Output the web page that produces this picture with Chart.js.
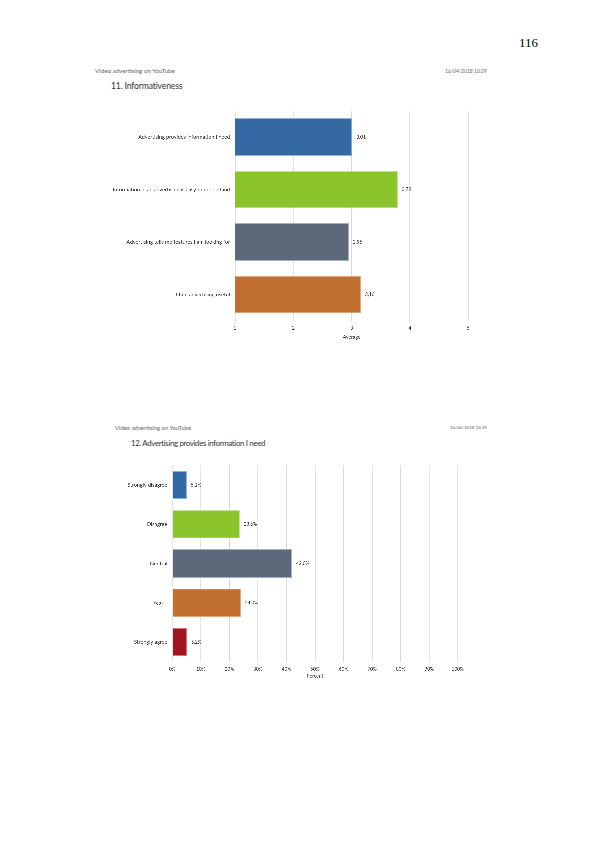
<!DOCTYPE html>
<html>
<head>
<meta charset="utf-8">
<script src="https://cdn.jsdelivr.net/npm/chart.js@4.4.1/dist/chart.umd.min.js"></script>
<style>
  html, body { margin: 0; padding: 0; background: #fff; }
  #page { position: relative; width: 595px; height: 842px; overflow: hidden; font-family: Lato, "Open Sans", sans-serif; }
  .t { position: absolute; white-space: nowrap; }
  .c { position: absolute; }
</style>
</head>
<body>
<div id="page">
  <div class="t" style="left:519px;top:35px;font:13px 'Liberation Serif',serif;color:#000;">116</div>

  <div class="t" style="left:95px;top:67.5px;font-size:6.2px;line-height:6px;color:#666;">Video advertising on YouTube</div>
  <div class="t" style="left:445px;top:68px;font-size:5px;line-height:6px;color:#666;">16/04/2018 10:29</div>
  <div class="t" style="left:111px;top:82px;font-size:8.6px;line-height:9px;color:#333;letter-spacing:-0.15px;">11. Informativeness</div>
  <div class="c" style="left:0;top:100px;width:595px;height:240px;"><canvas id="chart1"></canvas></div>

  <div class="t" style="left:115px;top:424.5px;font-size:5.9px;line-height:6px;color:#666;">Video advertising on YouTube</div>
  <div class="t" style="left:450px;top:424.5px;font-size:4.4px;line-height:6px;color:#666;">16/04/2018 10:29</div>
  <div class="t" style="left:131px;top:439px;font-size:7.9px;line-height:9px;color:#333;letter-spacing:-0.35px;">12. Advertising provides information I need</div>
  <div class="c" style="left:0;top:455px;width:595px;height:224px;"><canvas id="chart2"></canvas></div>
</div>

<script>
// chart 11 - informativeness averages
const categories1 = [
  "Advertising provides information I need",
  "Information in an advertising is easy to understand",
  "Advertising tells me features I am looking for",
  "I find advertising useful"
];
const averages1 = [3.01, 3.79, 2.95, 3.16];
const ticks1 = [1, 2, 3, 4, 5];

// chart 12 - answer shares
const categories2 = ["Strongly disagree", "Disagree", "Neutral", "Agree", "Strongly agree"];
const percents2 = [5.1, 23.6, 42.0, 24.0, 5.2];
const ticks2 = [0, 10, 20, 30, 40, 50, 60, 70, 80, 90, 100];

const fills = ["#3569a3", "#8bc52b", "#5c697b", "#c17032", "#a0151f"];
const edges = ["#8fb3d9", "#c4e68f", "#a5b0bf", "#e3a97c", "#d6727a"];

const fontFam = "Lato, 'Open Sans', sans-serif";
const textCol = "#404040";

const valueLabels = {
  id: "valueLabels",
  afterDatasetsDraw(chart, args, opts) {
    const ctx = chart.ctx;
    const meta = chart.getDatasetMeta(0);
    const data = chart.data.datasets[0].data;
    ctx.save();
    ctx.font = opts.size + "px " + fontFam;
    ctx.fillStyle = textCol;
    ctx.textAlign = "left";
    ctx.textBaseline = "middle";
    meta.data.forEach((bar, i) => {
      ctx.fillText(opts.fmt(data[i]), bar.x + 4, bar.y);
    });
    ctx.restore();
  }
};

function makeChart(id, cats, vals, opt) {
  new Chart(document.getElementById(id), {
    type: "bar",
    data: {
      labels: cats,
      datasets: [{
        data: vals,
        backgroundColor: fills.slice(0, vals.length),
        borderColor: edges.slice(0, vals.length),
        borderWidth: 0.8,
        categoryPercentage: 1,
        barPercentage: opt.barPct
      }]
    },
    options: {
      indexAxis: "y",
      responsive: true,
      maintainAspectRatio: false,
      animation: false,
      devicePixelRatio: 3,
      layout: { padding: { top: opt.padTop, right: opt.padRight, bottom: 0, left: 0 } },
      plugins: {
        legend: { display: false },
        tooltip: { enabled: false },
        valueLabels: { fmt: opt.fmt, size: opt.labelSize }
      },
      scales: {
        x: {
          min: opt.min, max: opt.max,
          afterBuildTicks: s => { s.ticks = opt.ticks.map(v => ({ value: v })); },
          afterFit: s => { s.height = opt.xHeight; },
          grid: { color: "#d9d9d9", lineWidth: 0.8, drawTicks: false },
          border: { display: false },
          ticks: {
            padding: 4.5,
            color: textCol,
            font: { family: fontFam, size: 4.8 },
            maxRotation: 0,
            callback: v => opt.tickFmt(v)
          },
          title: {
            display: true, text: opt.xTitle, color: textCol,
            font: { family: fontFam, size: 5 }, padding: 0
          }
        },
        y: {
          afterFit: s => { s.width = opt.yWidth; },
          grid: { display: false, drawTicks: false },
          border: { display: false },
          ticks: {
            padding: 5,
            color: textCol,
            font: { family: fontFam, size: opt.catSize }
          }
        }
      }
    },
    plugins: [valueLabels]
  });
}

makeChart("chart1", categories1, averages1, {
  barPct: 0.715, padTop: 10.8, padRight: 126.7, yWidth: 235, xHeight: 19.2,
  min: 1, max: 5, ticks: ticks1, xTitle: "Average", catSize: 5.3, labelSize: 4.9,
  tickFmt: v => String(v),
  fmt: v => v.toFixed(2).replace(".", ",")
});

makeChart("chart2", categories2, percents2, {
  barPct: 0.72, padTop: 10.4, padRight: 137.3, yWidth: 172.3, xHeight: 17.4,
  min: 0, max: 100, ticks: ticks2, xTitle: "Percent", catSize: 5.3, labelSize: 4.8,
  tickFmt: v => v + "%",
  fmt: v => v.toFixed(1).replace(".", ",") + "%"
});
</script>
</body>
</html>
